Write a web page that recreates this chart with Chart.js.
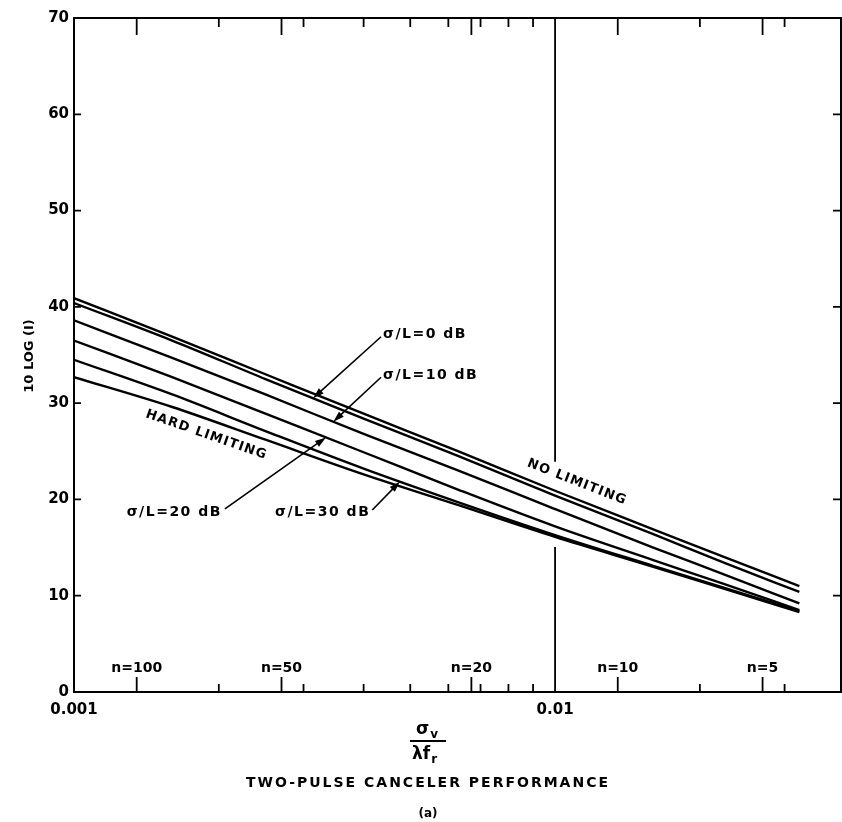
<!DOCTYPE html>
<html>
<head>
<meta charset="utf-8">
<script src="https://cdn.jsdelivr.net/npm/chart.js@4/dist/chart.umd.min.js"></script>
<style>
  html, body { margin: 0; padding: 0; background: #fff; }
  canvas { display: block; }
</style>
</head>
<body>
<canvas id="chart" width="842" height="822"></canvas>
<script>
// ---- data ----
const xValues      = [0.001, 0.0016, 0.0025, 0.004, 0.0063, 0.01, 0.016, 0.0225, 0.0322];
const noLimiting   = [40.9, 36.9, 33.0, 28.9, 25.0, 20.9, 16.9, 14.0, 11.0];
const sigma0dB     = [40.4, 36.5, 32.5, 28.4, 24.5, 20.4, 16.4, 13.4, 10.4];
const sigma10dB    = [38.6, 34.7, 30.9, 26.8, 23.0, 19.0, 15.0, 12.2, 9.2];
const sigma20dB    = [36.5, 32.7, 28.9, 24.9, 21.0, 17.2, 13.7, 11.2, 8.5];
const sigma30dB    = [34.5, 30.9, 27.1, 23.2, 19.7, 16.3, 13.1, 10.8, 8.4];
const hardLimiting = [32.7, 29.6, 26.2, 22.6, 19.4, 16.1, 13.0, 10.7, 8.3];

const xTickValues  = [0.001, 0.01];
const minorTicks   = [0.002, 0.003, 0.004, 0.005, 0.006, 0.007, 0.008, 0.009, 0.02, 0.03];
const nTickValues  = [0.00135, 0.0027, 0.0067, 0.0135, 0.027];
const nLabels      = ['n=100', 'n=50', 'n=20', 'n=10', 'n=5'];

const FONT = '"DejaVu Sans", "Liberation Sans", sans-serif';

function toPoints(ys) {
    return ys.map((v, i) => ({ x: xValues[i], y: v }));
}

// value of a curve at x, interpolated in log x
function curveAt(ys, xv) {
    const lx = Math.log10(xv);
    for (let i = 0; i < xValues.length - 1; i++) {
        const a = Math.log10(xValues[i]), b = Math.log10(xValues[i + 1]);
        if (lx >= a && lx <= b) {
            return ys[i] + (ys[i + 1] - ys[i]) * (lx - a) / (b - a);
        }
    }
    return ys[ys.length - 1];
}

function drawArrow(ctx, x0, y0, x1, y1) {
    const ang = Math.atan2(y1 - y0, x1 - x0);
    const c = Math.cos(ang), s = Math.sin(ang);
    ctx.beginPath();
    ctx.moveTo(x0, y0);
    ctx.lineTo(x1 - c * 6, y1 - s * 6);
    ctx.stroke();
    ctx.beginPath();
    ctx.moveTo(x1, y1);
    ctx.lineTo(x1 - c * 11 - s * 3.5, y1 - s * 11 + c * 3.5);
    ctx.lineTo(x1 - c * 11 + s * 3.5, y1 - s * 11 - c * 3.5);
    ctx.closePath();
    ctx.fill();
}

// text along a curve, offset perpendicular to it
function curveText(chart, ys, xv, text, offset) {
    const { ctx, scales: { x, y } } = chart;
    const px = x.getPixelForValue(xv);
    const py = y.getPixelForValue(curveAt(ys, xv));
    const px2 = x.getPixelForValue(xv * 1.2);
    const py2 = y.getPixelForValue(curveAt(ys, xv * 1.2));
    const ang = Math.atan2(py2 - py, px2 - px);
    ctx.save();
    ctx.translate(px, py);
    ctx.rotate(ang);
    ctx.font = 'bold 13px ' + FONT;
    ctx.letterSpacing = '1.2px';
    ctx.textAlign = 'center';
    ctx.textBaseline = 'middle';
    ctx.fillText(text, 0, offset);
    ctx.restore();
}

// the 0.01 line is broken where the curves cross it
const decadeLine = {
    id: 'decadeLine',
    beforeDatasetsDraw(chart) {
        const { ctx, chartArea: a, scales: { x, y } } = chart;
        const px = x.getPixelForValue(0.01);
        const gapTop = y.getPixelForValue(curveAt(noLimiting, 0.01)) - 29;
        const gapBottom = y.getPixelForValue(curveAt(hardLimiting, 0.01)) + 10;
        ctx.save();
        ctx.strokeStyle = '#000';
        ctx.lineWidth = 1.8;
        ctx.beginPath();
        ctx.moveTo(px, a.top); ctx.lineTo(px, gapTop);
        ctx.moveTo(px, gapBottom); ctx.lineTo(px, a.bottom);
        ctx.stroke();
        ctx.restore();
    }
};

const overlay = {
    id: 'overlay',
    afterDraw(chart) {
        const { ctx, chartArea: a, scales: { x, y } } = chart;
        ctx.save();
        ctx.strokeStyle = '#000';
        ctx.fillStyle = '#000';

        // frame
        ctx.lineWidth = 2;
        ctx.strokeRect(a.left, a.top, a.right - a.left, a.bottom - a.top);

        // minor ticks, bottom and top
        ctx.lineWidth = 1.8;
        minorTicks.forEach(v => {
            const px = x.getPixelForValue(v);
            ctx.beginPath();
            ctx.moveTo(px, a.bottom); ctx.lineTo(px, a.bottom - 8);
            ctx.moveTo(px, a.top); ctx.lineTo(px, a.top + 9);
            ctx.stroke();
        });
        // n ticks and labels
        ctx.font = 'bold 14px ' + FONT;
        ctx.textAlign = 'center';
        ctx.textBaseline = 'alphabetic';
        nTickValues.forEach((v, i) => {
            const px = x.getPixelForValue(v);
            ctx.beginPath();
            ctx.moveTo(px, a.bottom); ctx.lineTo(px, a.bottom - 15);
            ctx.moveTo(px, a.top); ctx.lineTo(px, a.top + 17);
            ctx.stroke();
            ctx.fillText(nLabels[i], px, a.bottom - 20);
        });
        // y ticks, left and right, pointing inward
        for (let v = 10; v <= 60; v += 10) {
            const py = y.getPixelForValue(v);
            ctx.beginPath();
            ctx.moveTo(a.left, py); ctx.lineTo(a.left + 7, py);
            ctx.moveTo(a.right, py); ctx.lineTo(a.right - 8, py);
            ctx.stroke();
        }

        // curve annotations
        ctx.lineWidth = 1.6;
        ctx.font = 'bold 14px ' + FONT;
        ctx.letterSpacing = '1.5px';
        ctx.textBaseline = 'middle';

        let lx = x.getPixelForValue(0.00439), ly = y.getPixelForValue(37.1);
        ctx.textAlign = 'left';
        ctx.fillText('σ/L=0 dB', lx, ly);
        drawArrow(ctx, lx - 2, ly + 2, x.getPixelForValue(0.00314), y.getPixelForValue(curveAt(sigma0dB, 0.00314)));

        ly = y.getPixelForValue(32.9);
        ctx.fillText('σ/L=10 dB', lx, ly);
        drawArrow(ctx, lx - 2, ly + 2, x.getPixelForValue(0.00346), y.getPixelForValue(curveAt(sigma10dB, 0.00346)));

        lx = x.getPixelForValue(0.00203); ly = y.getPixelForValue(18.7);
        ctx.textAlign = 'right';
        ctx.fillText('σ/L=20 dB', lx, ly);
        drawArrow(ctx, lx + 3, ly - 3, x.getPixelForValue(0.00334), y.getPixelForValue(curveAt(sigma20dB, 0.00334)));

        lx = x.getPixelForValue(0.00413);
        ctx.fillText('σ/L=30 dB', lx, ly);
        drawArrow(ctx, lx + 2, ly - 2, x.getPixelForValue(0.00476), y.getPixelForValue(curveAt(sigma30dB, 0.00476)));
        ctx.letterSpacing = '0px';

        curveText(chart, hardLimiting, 0.00193, 'HARD LIMITING', 15);
        curveText(chart, noLimiting, 0.0108, 'NO LIMITING', -16);

        // y axis title
        ctx.save();
        ctx.translate(30, 356);
        ctx.rotate(-Math.PI / 2);
        ctx.font = 'bold 13px ' + FONT;
        ctx.textAlign = 'center';
        ctx.textBaseline = 'middle';
        ctx.fillText('10 LOG (I)', 0, 0);
        ctx.restore();

        // x axis title: sigma_v over lambda f_r
        const cx = 428;
        ctx.textAlign = 'left';
        ctx.textBaseline = 'alphabetic';
        ctx.font = 'bold 17px ' + FONT;
        const ws = ctx.measureText('σ').width;
        ctx.fillText('σ', cx - 12, 734);
        ctx.font = 'bold 12px ' + FONT;
        ctx.fillText('v', cx - 12 + ws + 1, 738);
        ctx.lineWidth = 2;
        ctx.beginPath();
        ctx.moveTo(cx - 18, 741); ctx.lineTo(cx + 18, 741);
        ctx.stroke();
        ctx.font = 'bold 17px ' + FONT;
        const wl = ctx.measureText('λf').width;
        ctx.fillText('λf', cx - 16, 759);
        ctx.font = 'bold 12px ' + FONT;
        ctx.fillText('r', cx - 16 + wl + 1, 763);

        // caption
        ctx.textAlign = 'center';
        ctx.textBaseline = 'middle';
        ctx.font = 'bold 14px ' + FONT;
        ctx.letterSpacing = '2px';
        ctx.fillText('TWO-PULSE CANCELER PERFORMANCE', cx, 783);
        ctx.letterSpacing = '0px';
        ctx.font = 'bold 12px ' + FONT;
        ctx.fillText('(a)', cx, 814);

        ctx.restore();
    }
};

const lineStyle = {
    borderColor: '#000',
    borderWidth: 2.4,
    pointRadius: 0,
    fill: false,
    cubicInterpolationMode: 'monotone'
};

new Chart(document.getElementById('chart'), {
    type: 'line',
    data: {
        datasets: [
            { label: 'NO LIMITING', data: toPoints(noLimiting), ...lineStyle },
            { label: 'σ/L=0 dB', data: toPoints(sigma0dB), ...lineStyle },
            { label: 'σ/L=10 dB', data: toPoints(sigma10dB), ...lineStyle },
            { label: 'σ/L=20 dB', data: toPoints(sigma20dB), ...lineStyle },
            { label: 'σ/L=30 dB', data: toPoints(sigma30dB), ...lineStyle },
            { label: 'HARD LIMITING', data: toPoints(hardLimiting), ...lineStyle }
        ]
    },
    options: {
        responsive: false,
        animation: false,
        devicePixelRatio: 1,
        layout: { padding: { left: 0, top: 18, right: 1, bottom: 0 } },
        plugins: { legend: { display: false }, tooltip: { enabled: false } },
        scales: {
            x: {
                type: 'logarithmic',
                min: 0.001,
                max: 0.0393,
                afterBuildTicks: s => { s.ticks = xTickValues.map(v => ({ value: v })); },
                afterFit: s => { s.height = 130; },
                ticks: {
                    autoSkip: false,
                    maxRotation: 0,
                    padding: 9,
                    color: '#000',
                    font: { family: FONT, size: 15, weight: 'bold' },
                    callback: v => String(v)
                },
                grid: { display: false, drawTicks: false },
                border: { display: true, color: '#000', width: 2 }
            },
            y: {
                min: 0,
                max: 70,
                afterFit: s => { s.width = 74; },
                ticks: {
                    stepSize: 10,
                    padding: 5,
                    color: '#000',
                    font: { family: FONT, size: 15, weight: 'bold' }
                },
                grid: { display: false, drawTicks: false },
                border: { display: true, color: '#000', width: 2 }
            }
        }
    },
    plugins: [decadeLine, overlay]
});
</script>
</body>
</html>
